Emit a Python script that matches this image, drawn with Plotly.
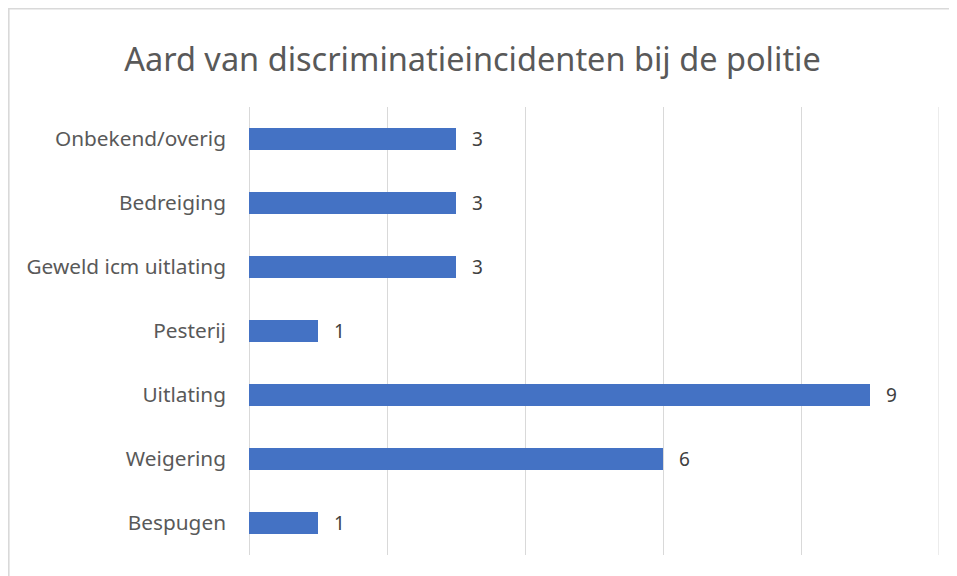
import plotly.graph_objects as go

categories = ["Bespugen", "Weigering", "Uitlating", "Pesterij",
              "Geweld icm uitlating", "Bedreiging", "Onbekend/overig"]
values = [1, 6, 9, 1, 3, 3, 3]
title_text = "Aard van discriminatieincidenten bij de politie"
x_max = 10

OFF = 8  # default page body margin
W, H = 957 - OFF, 576 - OFF
L, T = 249 - OFF, 107 - OFF
pw, ph = 690, 448
R, B = W - L - pw, H - T - ph

fig = go.Figure()
fig.add_trace(go.Bar(
    y=categories, x=values, orientation="h",
    marker=dict(color="#4472C4", line=dict(width=0)),
    hoverinfo="x+y",
))

for c, v in zip(categories, values):
    fig.add_annotation(x=v, y=c, text=str(v), showarrow=False,
                       xanchor="left", xshift=14,
                       font=dict(family="Noto Sans", size=19, color="#404040"))

# last gridline (plotly drops the one at the axis end)
fig.add_shape(type="line", xref="x", yref="paper", x0=x_max, x1=x_max,
              y0=0, y1=1, line=dict(color="#D9D9D9", width=1), layer="below")

# chart border (cropped on right/bottom)
fig.add_shape(type="rect", xref="paper", yref="paper",
              x0=(0.8 - L) / pw, x1=(W + 5 - L) / pw,
              y0=-(B + 5) / ph, y1=(H - 0.8 - B) / ph,
              line=dict(color="#D9D9D9", width=1.6), fillcolor="rgba(0,0,0,0)",
              layer="below")

fig.update_layout(
    width=W, height=H,
    margin=dict(l=L, r=R, t=T, b=B),
    paper_bgcolor="white", plot_bgcolor="white",
    showlegend=False,
    bargap=0.655,
    title=dict(text=title_text, x=(472.5 - OFF) / W, xanchor="center",
               y=1 - (60 - OFF) / H, yanchor="middle",
               font=dict(family="Noto Sans", size=32.5, color="#595959")),
    xaxis=dict(range=[0, x_max], dtick=2, showgrid=True, gridcolor="#D9D9D9",
               gridwidth=1, showticklabels=False, zeroline=True,
               zerolinecolor="#D9D9D9", zerolinewidth=1, showline=False,
               fixedrange=True),
    yaxis=dict(showgrid=False, showline=False, ticks="",
               ticklabelstandoff=22,
               tickfont=dict(family="Noto Sans", size=20.8, color="#595959"),
               fixedrange=True),
)

fig.write_html("out.html")
